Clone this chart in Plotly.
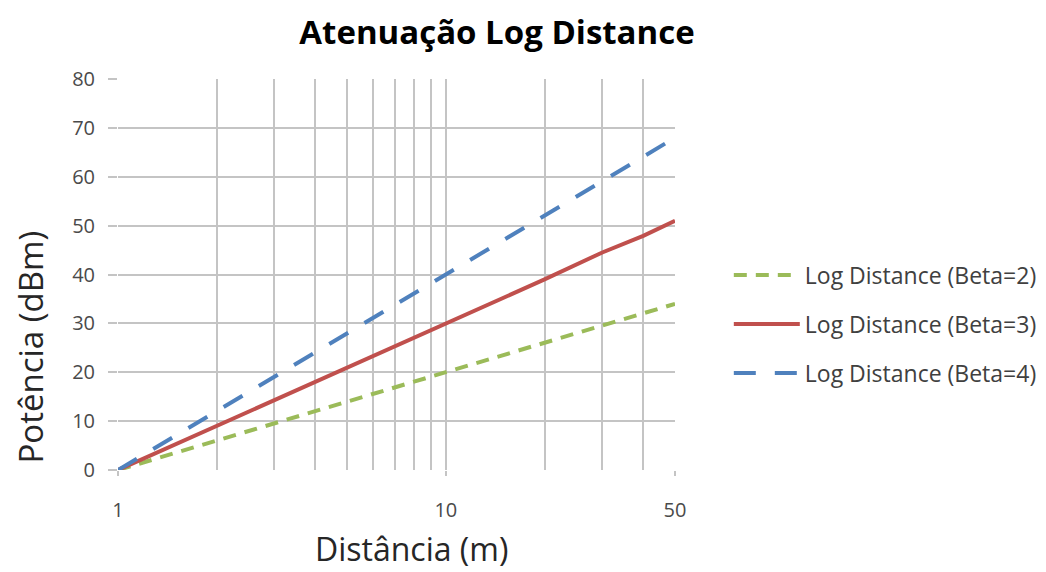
import plotly.graph_objects as go

distance = [1, 2, 3, 4, 5, 6, 7, 8, 9, 10, 20, 30, 40, 50]
beta2 = [0, 6.0, 9.5, 12.0, 14.0, 15.6, 16.9, 18.1, 19.1, 20.0, 26.0, 29.5, 32.0, 34.0]
beta3 = [0, 9.0, 14.3, 18.1, 21.0, 23.3, 25.4, 27.1, 28.6, 30.0, 39.0, 44.5, 47.9, 51.0]
beta4 = [0, 12.0, 19.1, 24.1, 28.0, 31.1, 33.8, 36.1, 38.2, 40.0, 52.0, 59.1, 64.1, 68.0]
names = ["Log Distance (Beta=2)", "Log Distance (Beta=3)", "Log Distance (Beta=4)"]
x_ticks = [1, 10, 50]
x_minor = [2, 3, 4, 5, 6, 7, 8, 9, 20, 30, 40]
y_ticks = [0, 10, 20, 30, 40, 50, 60, 70, 80]

FONT = "Open Sans"
GRID = "#c4c4c4"
TICKC = "#4a4a4a"

fig = go.Figure()
fig.add_trace(go.Scatter(x=distance, y=beta2, mode="lines", name=names[0], legendgroup="a",
                         line=dict(color="#9BBB59", width=4, dash="13px,9px")))
fig.add_trace(go.Scatter(x=distance, y=beta3, mode="lines", name=names[1], legendgroup="b",
                         line=dict(color="#C0504D", width=4)))
fig.add_trace(go.Scatter(x=distance, y=beta4, mode="lines", name=names[2], legendgroup="c",
                         line=dict(color="#4F81BD", width=4, dash="22px,19px")))

fig.update_layout(
    width=1046, height=572,
    margin=dict(l=110, r=377, t=71, b=110),
    paper_bgcolor="white", plot_bgcolor="white",
    font=dict(family=FONT, color=TICKC),
    title=dict(text="<b>Atenuação Log Distance</b>", x=489 / 1046, xanchor="center",
               y=1 - 24 / 572, yanchor="middle",
               font=dict(family=FONT, size=33, color="#000000")),
    xaxis=dict(type="log", range=[0, 1.69897], tickvals=x_ticks, ticktext=[str(v) for v in x_ticks],
               showgrid=True, gridcolor=GRID, gridwidth=2, zeroline=False,
               showline=False, ticks="outside", ticklen=5, tickcolor=GRID, tickwidth=2,
               ticklabelstandoff=17,
               tickfont=dict(family=FONT, size=20, color=TICKC),
               minor=dict(tickvals=x_minor, showgrid=True, gridcolor=GRID, gridwidth=2, ticks="")),
    yaxis=dict(range=[0, 80], tickvals=y_ticks, showgrid=True, gridcolor=GRID, gridwidth=2,
               zeroline=False, showline=False, ticks="outside", ticklen=9, tickcolor=GRID,
               tickwidth=2, ticklabelstandoff=9, tickfont=dict(family=FONT, size=20, color=TICKC)),
    legend=dict(x=1.0966, xanchor="left", y=0.373, yanchor="middle", traceorder="grouped",
                tracegroupgap=16, itemwidth=66, bgcolor="rgba(0,0,0,0)",
                font=dict(family=FONT, size=23, color="#404040")),
    annotations=[
        dict(text="Distância (m)", xref="paper", yref="paper", x=0.5277, y=-0.201,
             xanchor="center", yanchor="middle", showarrow=False,
             font=dict(family=FONT, size=32, color="#262626")),
        dict(text="Potência (dBm)", xref="paper", yref="paper", x=-0.157, y=0.3146,
             xanchor="center", yanchor="middle", showarrow=False, textangle=-90,
             font=dict(family=FONT, size=33, color="#262626")),
    ],
)

fig.write_html("out.html")
